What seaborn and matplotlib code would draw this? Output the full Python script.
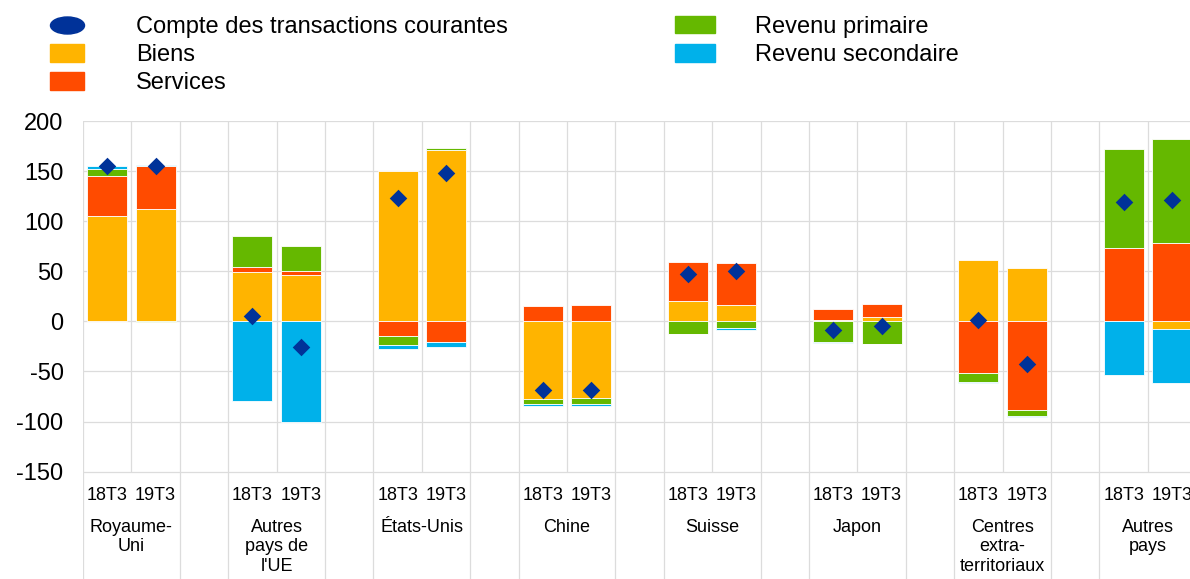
import numpy as np
import matplotlib
matplotlib.use("Agg")
import matplotlib.pyplot as plt
from matplotlib.patches import Patch
from matplotlib.lines import Line2D
from matplotlib.path import Path
from matplotlib.transforms import Affine2D
import seaborn as sns

#%%
groups = ["Royaume-\nUni", "Autres\npays de\nl'UE", "États-Unis", "Chine", "Suisse",
          "Japon", "Centres\nextra-\nterritoriaux", "Autres\npays"]
periods = ["18T3", "19T3"]

# one value per bar: group order, 18T3 then 19T3
biens = [105.4, 111.7, 49.2, 45.9, 150.5, 170.8, -77.5, -76.5,
         19.9, 16.6, 1.0, 4.7, 61.5, 53.5, 0.0, -7.3]
services = [39.6, 43.0, 5.3, 4.0, -14.3, -20.3, 15.6, 16.6,
            39.6, 41.2, 11.0, 12.9, -51.2, -88.7, 72.8, 77.8]
primaire = [7.0, -1.0, 30.2, 25.0, -9.0, 2.0, -5.3, -5.9,
            -12.3, -6.3, -21.0, -22.6, -8.9, -5.7, 99.4, 104.6]
secondaire = [3.0, 1.7, -79.4, -100.4, -4.3, -5.0, -2.2, -2.3,
              -0.5, -2.0, -0.3, -0.3, -1.4, -1.6, -53.5, -53.8]
compte = [155.5, 155.5, 5.3, -25.3, 123.3, 148.2, -68.8, -68.1,
          47.5, 49.8, -8.3, -4.7, 1.0, -42.2, 119.0, 121.6]

series = [("Biens", biens, "#FFB400"),
          ("Services", services, "#FF4B00"),
          ("Revenu primaire", primaire, "#65B800"),
          ("Revenu secondaire", secondaire, "#00B1EA")]
blue = "#003299"
grid_c = "#dcdcdc"

#%%
sns.set_theme(style="white")
plt.rcParams["font.family"] = ["Liberation Sans", "DejaVu Sans"]
plt.rcParams["axes.unicode_minus"] = False
plt.rcParams["text.color"] = "black"
plt.rcParams["ytick.color"] = "black"

W, H = 1190, 579
fig = plt.figure(figsize=(W / 100, H / 100), dpi=100)
ax = fig.add_axes([83 / W, 0, 1 - 83 / W, 1 - 120.5 / H])

ymin = -(H - 321) / 1.003
ax.set_ylim(ymin, 200.5)
ax.set_xlim(-0.5, (W - 83) / 48.4 - 0.5)

n = len(groups)
x = np.array([3 * g + b for g in range(n) for b in range(len(periods))])

pos_base = np.zeros(len(x))
neg_base = np.zeros(len(x))
for name, vals, col in series:
    v = np.array(vals)
    bottom = np.where(v >= 0, pos_base, neg_base)
    ax.bar(x, v, bottom=bottom, width=0.83, color=col, edgecolor="white",
           linewidth=0.6, zorder=3)
    pos_base = pos_base + np.where(v >= 0, v, 0)
    neg_base = neg_base + np.where(v < 0, v, 0)

sns.scatterplot(x=x, y=compte, marker="D", s=80, color=blue, linewidth=0,
                zorder=5, legend=False, ax=ax)

# grid: every slot boundary in the plot area, only category cells below it
for k in range(3 * n):
    xb = k - 0.5
    lo = -150 if k % 3 == 1 else ymin
    ax.vlines(xb, lo, 200, color=grid_c, lw=0.9, zorder=1)
ax.set_xticks([])
ax.set_yticks(range(-150, 201, 50))
ax.yaxis.grid(True, color=grid_c, lw=0.9, zorder=1)
ax.tick_params(axis="y", length=0, pad=14, labelsize=17, labelcolor="black")
for s in ax.spines.values():
    s.set_visible(False)

for xi, lab in zip(x, periods * n):
    ax.text(xi, -173.5, lab, ha="center", va="center", fontsize=13)
for g, name in enumerate(groups):
    ax.text(3 * g + 0.5, -197, name, ha="center", va="top", fontsize=13,
            linespacing=1.2)

# legends
ell = Path.unit_circle().transformed(Affine2D().scale(1.0, 0.5))
h1 = [Line2D([0], [0], marker=ell, markersize=24.5, color=blue, linestyle="none"),
      Patch(color=series[0][2]), Patch(color=series[1][2])]
l1 = ["Compte des transactions courantes", "Biens", "Services"]
fig.legend(h1, l1, loc="upper left", bbox_to_anchor=(50 / W, 1 - 16 / H),
           frameon=False, fontsize=17, handlelength=1.44, handleheight=0.76,
           handletextpad=2.2, labelspacing=0.26, borderpad=0, borderaxespad=0)
h2 = [Patch(color=series[2][2]), Patch(color=series[3][2])]
l2 = ["Revenu primaire", "Revenu secondaire"]
fig.legend(h2, l2, loc="upper left", bbox_to_anchor=(675 / W, 1 - 16 / H),
           frameon=False, fontsize=17, handlelength=1.7, handleheight=0.76,
           handletextpad=1.7, labelspacing=0.26, borderpad=0, borderaxespad=0)

fig.savefig("out.png", dpi=100)
